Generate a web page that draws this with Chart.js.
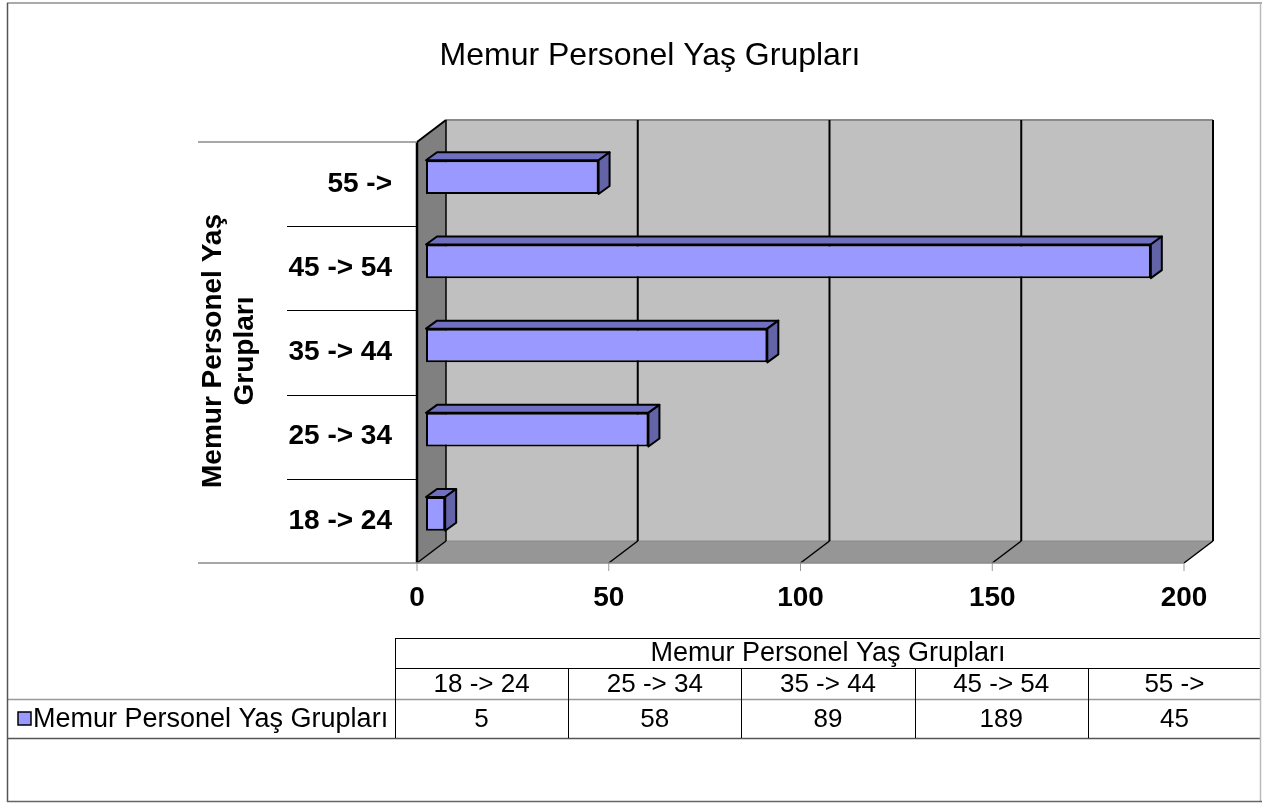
<!DOCTYPE html>
<html>
<head>
<meta charset="utf-8">
<title>Memur Personel Yaş Grupları</title>
<script src="https://cdn.jsdelivr.net/npm/chart.js@4/dist/chart.umd.min.js"></script>
<style>
  html, body { margin: 0; padding: 0; background: #fff; }
  #wrap { position: relative; width: 1262px; height: 803px; }
</style>
</head>
<body>
<div id="wrap"><canvas id="chart" width="1262" height="803"></canvas></div>
<script>
// data
const categories = ['18 -> 24', '25 -> 34', '35 -> 44', '45 -> 54', '55 ->'];
const values = [5, 58, 89, 189, 45];
const valueTicks = [0, 50, 100, 150, 200];
const seriesName = 'Memur Personel Yaş Grupları';
const chartTitle = 'Memur Personel Yaş Grupları';
const axisTitle = ['Memur Personel Yaş', 'Grupları'];

const FONT = '"Liberation Sans", Arial, sans-serif';
// offsets of the front plane and back wall from the plane the bars sit in
const FRONT = { dx: -9, dy: 7 };
const BACK = { dx: 20, dy: -15 };
const BAR_DEPTH = { dx: 11, dy: -8 };

function line(ctx, x1, y1, x2, y2, color, w) {
  ctx.beginPath();
  ctx.moveTo(x1, y1);
  ctx.lineTo(x2, y2);
  ctx.strokeStyle = color;
  ctx.lineWidth = w;
  ctx.stroke();
}

function poly(ctx, pts, fill, stroke, w) {
  ctx.beginPath();
  ctx.moveTo(pts[0][0], pts[0][1]);
  for (let i = 1; i < pts.length; i++) ctx.lineTo(pts[i][0], pts[i][1]);
  ctx.closePath();
  if (fill) { ctx.fillStyle = fill; ctx.fill(); }
  if (stroke) { ctx.strokeStyle = stroke; ctx.lineWidth = w; ctx.stroke(); }
}

// walls, floor and gridlines behind the bars
const walls3d = {
  id: 'walls3d',
  beforeDatasetsDraw(chart) {
    const ctx = chart.ctx;
    const ca = chart.chartArea;
    const xs = chart.scales.x;
    const x0 = xs.getPixelForValue(valueTicks[0]);
    const x1 = xs.getPixelForValue(valueTicks[valueTicks.length - 1]);
    const fT = ca.top + FRONT.dy, fB = ca.bottom + FRONT.dy;
    const bT = ca.top + BACK.dy, bB = ca.bottom + BACK.dy;
    ctx.save();
    // back wall
    ctx.fillStyle = '#c0c0c0';
    ctx.fillRect(x0 + BACK.dx, bT, x1 - x0, bB - bT);
    line(ctx, x0 + BACK.dx, bT, x1 + BACK.dx, bT, '#8a8a8a', 2);
    // floor
    poly(ctx, [[x0 + FRONT.dx, fB], [x1 + FRONT.dx, fB], [x1 + BACK.dx, bB], [x0 + BACK.dx, bB]], '#969696');
    line(ctx, x0 + BACK.dx, bB, x1 + BACK.dx, bB, '#8a8a8a', 1);
    // side wall
    poly(ctx, [[x0 + FRONT.dx, fT], [x0 + BACK.dx, bT], [x0 + BACK.dx, bB], [x0 + FRONT.dx, fB]], '#808080');
    // gridlines on back wall and floor
    valueTicks.forEach(v => {
      const px = xs.getPixelForValue(v);
      if (v !== valueTicks[0]) line(ctx, px + BACK.dx, bT, px + BACK.dx, bB, '#000', 2);
      line(ctx, px + FRONT.dx, fB, px + BACK.dx, bB, '#000', 1.5);
      // tick mark under the axis
      line(ctx, px + FRONT.dx, fB, px + FRONT.dx, fB + 8, '#999', 1);
    });
    // side wall outline
    line(ctx, x0 + FRONT.dx, fT, x0 + BACK.dx, bT, '#000', 2);
    line(ctx, x0 + BACK.dx, bT, x0 + BACK.dx, bB, '#000', 1.5);
    line(ctx, x0 + FRONT.dx, fT, x0 + FRONT.dx, fB, '#000', 2.5);
    // front edge of floor (value axis line)
    line(ctx, 198, fB, x1 + FRONT.dx, fB, '#8a8a8a', 1.5);
    // category boundaries
    const bandH = (ca.bottom - ca.top) / categories.length;
    line(ctx, 198, fT, x0 + FRONT.dx, fT, '#8a8a8a', 1.5);
    for (let i = 1; i < categories.length; i++) {
      const y = Math.round(fT + bandH * i) + 0.5;
      line(ctx, 287, y, x0 + FRONT.dx, y, '#000', 1);
    }
    ctx.restore();
  },
  afterDatasetsDraw(chart) {
    const ctx = chart.ctx;
    const meta = chart.getDatasetMeta(0);
    ctx.save();
    ctx.lineJoin = 'round';
    meta.data.forEach(bar => {
      const p = bar.getProps(['x', 'y', 'base', 'height'], true);
      const top = p.y - p.height / 2, bot = p.y + p.height / 2;
      const l = p.base, r = p.x;
      // top face
      poly(ctx, [[l, top], [r, top], [r + BAR_DEPTH.dx, top + BAR_DEPTH.dy], [l + BAR_DEPTH.dx, top + BAR_DEPTH.dy]], '#7070c0', '#000', 2);
      // end face
      poly(ctx, [[r, top], [r + BAR_DEPTH.dx, top + BAR_DEPTH.dy], [r + BAR_DEPTH.dx, bot + BAR_DEPTH.dy], [r, bot]], '#6363a8', '#000', 2);
    });
    ctx.restore();
  },
  afterDraw(chart) {
    const ctx = chart.ctx;
    const xs = chart.scales.x;
    const ys = chart.scales.y;
    ctx.save();
    ctx.fillStyle = '#000';
    ctx.textBaseline = 'middle';

    // title
    ctx.font = '32px ' + FONT;
    ctx.textAlign = 'center';
    ctx.fillText(chartTitle, 650, 56);

    // category labels
    ctx.font = 'bold 28px ' + FONT;
    ctx.textAlign = 'right';
    categories.forEach((c, i) => {
      ctx.fillText(c, 392, ys.getPixelForValue(i) + FRONT.dy);
    });

    // value tick labels
    ctx.textAlign = 'center';
    valueTicks.forEach(v => {
      ctx.fillText(String(v), xs.getPixelForValue(v) + FRONT.dx, 598);
    });

    // axis title
    ctx.save();
    ctx.translate(229, 351);
    ctx.rotate(-Math.PI / 2);
    ctx.font = 'bold 28px ' + FONT;
    ctx.fillText(axisTitle[0], 0, -16);
    ctx.fillText(axisTitle[1], 0, 16);
    ctx.restore();

    // data table
    const tL = 395, tR = 1261, colW = (tR - tL) / categories.length;
    const r0 = 638, r1 = 668, r2 = 699, r3 = 738;
    line(ctx, tL, r0 + 0.5, tR, r0 + 0.5, '#000', 1);
    line(ctx, tL, r1 + 0.5, tR, r1 + 0.5, '#000', 1);
    line(ctx, 7, r2 + 0.5, tR, r2 + 0.5, '#999', 1.5);
    line(ctx, 7, r3 + 0.5, tR, r3 + 0.5, '#555', 1.5);
    line(ctx, tL + 0.5, r0, tL + 0.5, r3, '#000', 1);
    for (let i = 1; i < categories.length; i++) {
      const x = Math.round(tL + colW * i) + 0.5;
      line(ctx, x, r1, x, r3, '#000', 1);
    }
    ctx.textAlign = 'center';
    ctx.font = '27px ' + FONT;
    ctx.fillText(seriesName, (tL + tR) / 2, (r0 + r1) / 2 + 1);
    ctx.font = '26px ' + FONT;
    categories.forEach((c, i) => {
      ctx.fillText(c, tL + colW * (i + 0.5), (r1 + r2) / 2 + 1);
      ctx.fillText(String(values[i]), tL + colW * (i + 0.5), (r2 + r3) / 2 + 1);
    });
    // legend key
    ctx.fillStyle = '#9999ff';
    ctx.fillRect(18, 712, 13, 13);
    ctx.strokeStyle = '#000';
    ctx.lineWidth = 1.5;
    ctx.strokeRect(18, 712, 13, 13);
    ctx.fillStyle = '#000';
    ctx.textAlign = 'left';
    ctx.font = '27px ' + FONT;
    ctx.fillText(seriesName, 33, (r2 + r3) / 2 + 1);

    // outer frame
    line(ctx, 7, 3, 1262, 3, '#aaa', 2);
    line(ctx, 7.5, 3, 7.5, 802, '#555', 1.5);
    line(ctx, 1260.5, 3, 1260.5, 802, '#bbb', 1.5);
    line(ctx, 7, 801.5, 1262, 801.5, '#666', 1.5);
    ctx.restore();
  }
};

new Chart(document.getElementById('chart'), {
  type: 'bar',
  data: {
    labels: categories,
    datasets: [{
      label: seriesName,
      data: values,
      backgroundColor: '#9999ff',
      borderColor: '#000',
      borderWidth: 2,
      borderSkipped: false,
      categoryPercentage: 1,
      barPercentage: 0.4
    }]
  },
  options: {
    indexAxis: 'y',
    responsive: false,
    animation: false,
    devicePixelRatio: 1,
    layout: { padding: { left: 426, right: 69, top: 135, bottom: 247 } },
    plugins: {
      legend: { display: false },
      title: { display: false },
      tooltip: { enabled: false }
    },
    scales: {
      x: { type: 'linear', min: 0, max: 200, display: false },
      y: { type: 'category', reverse: true, display: false }
    }
  },
  plugins: [walls3d]
});
</script>
</body>
</html>
